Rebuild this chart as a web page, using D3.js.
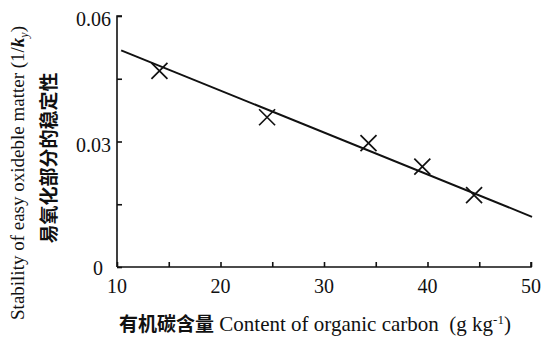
<!DOCTYPE html>
<html>
<head>
<meta charset="utf-8">
<script src="https://cdn.jsdelivr.net/npm/d3@7"></script>
<style>
  body { margin: 0; background: #fff; }
  text { font-family: "Liberation Serif", "Times New Roman", serif; fill: #111; }
  .cjk { font-family: "Noto Sans CJK SC", sans-serif; font-weight: 700; }
</style>
</head>
<body>
<div id="chart"></div>
<script>
// data
const carbon = [14.1, 24.5, 34.3, 39.5, 44.5]
const stability = [0.0469, 0.0358, 0.0296, 0.0240, 0.0172]
const fitX = [10.4, 50.1]
const fitY = [0.0518, 0.0120]
const xTicks = [10, 20, 30, 40, 50]
const xMinor = [15, 25, 35, 45]
const yTicks = [0, 0.03, 0.06]
const yMinor = [0.015, 0.045]

const W = 542, H = 338
const m = { l: 117, r: 11, t: 16, b: 71 }

const svg = d3.select('#chart').append('svg')
    .attr('width', W)
    .attr('height', H)

const x = d3.scaleLinear().domain([10, 50]).range([m.l, W - m.r])
const y = d3.scaleLinear().domain([0, 0.06]).range([H - m.b, m.t])

const fmtY = d => d === 0 ? '0' : d3.format('.2f')(d)

// y axis, ticks pointing inward
const yAxis = svg.append('g')
    .attr('transform', `translate(${m.l},0)`)
    .call(d3.axisRight(y).tickValues(yTicks.concat(yMinor)).tickSize(5).tickFormat(''))
yAxis.select('.domain').attr('d', `M5,${m.t}H0V${H - m.b}`)
yAxis.selectAll('path,line').attr('stroke', '#111').attr('stroke-width', 1.6)

// the zero label sits further left so it clears the "10" below it
svg.append('g').selectAll('text')
    .data(yTicks)
    .join('text')
    .attr('x', d => m.l - (d === 0 ? 14 : 6))
    .attr('y', d => y(d) + (d === 0 ? 1 : 3))
    .attr('dy', '0.35em')
    .attr('text-anchor', 'end')
    .style('font-size', '20px')
    .text(fmtY)

// x axis, ticks pointing up
const xAxis = svg.append('g')
    .attr('transform', `translate(0,${H - m.b})`)
    .call(d3.axisTop(x).tickValues(xTicks.concat(xMinor)).tickSize(5).tickFormat(''))
xAxis.select('.domain').attr('d', `M${m.l},0H${W - m.r}V-5`)
xAxis.selectAll('path,line').attr('stroke', '#111').attr('stroke-width', 1.6)

svg.append('g').selectAll('text')
    .data(xTicks)
    .join('text')
    .attr('x', d => x(d))
    .attr('y', H - m.b + 26)
    .attr('text-anchor', 'middle')
    .style('font-size', '20px')
    .text(d => d)

// fitted line
const fit = fitX.map((v, i) => [v, fitY[i]])
svg.append('path')
    .datum(fit)
    .attr('fill', 'none')
    .attr('stroke', '#111')
    .attr('stroke-width', 1.9)
    .attr('d', d3.line().x(d => x(d[0])).y(d => y(d[1])))

// cross markers
const s = 8
svg.append('g').selectAll('path')
    .data(carbon.map((v, i) => [v, stability[i]]))
    .join('path')
    .attr('fill', 'none')
    .attr('stroke', '#111')
    .attr('stroke-width', 1.7)
    .attr('d', d => {
        const cx = x(d[0]), cy = y(d[1])
        return `M${cx - s},${cy - s}L${cx + s},${cy + s}M${cx - s},${cy + s}L${cx + s},${cy - s}`
    })

// x title
const xt = svg.append('text')
    .attr('x', 315)
    .attr('y', 331)
    .attr('text-anchor', 'middle')
    .style('font-size', '21px')
xt.append('tspan').attr('class', 'cjk').style('font-size', '19px').text('有机碳含量')
xt.append('tspan').text(' Content of organic carbon\u2002(g kg')
xt.append('tspan').attr('dy', -7).style('font-size', '13px').text('-1')
xt.append('tspan').attr('dy', 7).text(')')

// y titles
const yt = svg.append('text')
    .attr('transform', `translate(24,173) rotate(-90)`)
    .attr('text-anchor', 'middle')
    .style('font-size', '19px')
yt.append('tspan').text('Stability of easy oxideble matter (1/')
yt.append('tspan').style('font-style', 'italic').style('font-weight', 700).text('k')
yt.append('tspan').attr('dy', 4).style('font-size', '12px').style('font-style', 'italic').text('y')
yt.append('tspan').attr('dy', -4).text(')')

svg.append('text')
    .attr('class', 'cjk')
    .attr('transform', `translate(56,158) rotate(-90)`)
    .attr('text-anchor', 'middle')
    .style('font-size', '19px')
    .text('易氧化部分的稳定性')
</script>
</body>
</html>
